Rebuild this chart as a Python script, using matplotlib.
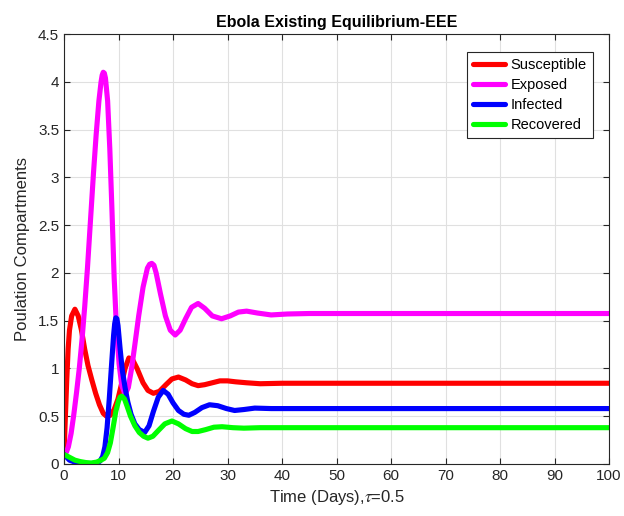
import matplotlib
matplotlib.use("Agg")
import matplotlib.pyplot as plt

plt.rcParams['font.family'] = ['Liberation Sans', 'DejaVu Sans']
plt.rcParams['mathtext.fontset'] = 'stix'

# values
t_S = [0, 0.25, 0.5, 0.75, 1.0, 1.4, 2.0, 2.6, 3.2, 3.8, 4.4, 5.1, 5.8, 6.5, 7.2, 7.8,
       8.5, 9.2, 9.9, 10.6, 11.2, 11.9, 12.6, 13.4, 14.5, 15.4, 16.4, 17.5, 18.7, 19.8,
       21.0, 22.3, 23.5, 24.6, 25.8, 27.2, 28.6, 30.0, 31.5, 33.5, 36, 40, 50, 60, 100]
S = [0.1, 0.5, 0.88, 1.2, 1.4, 1.55, 1.62, 1.55, 1.40, 1.20, 1.03, 0.88, 0.74, 0.62, 0.53, 0.50,
     0.51, 0.57, 0.68, 0.85, 1.0, 1.11, 1.09, 1.0, 0.85, 0.77, 0.74, 0.76, 0.83, 0.89,
     0.91, 0.88, 0.84, 0.82, 0.83, 0.85, 0.87, 0.87, 0.86, 0.85, 0.84, 0.845, 0.845, 0.845, 0.845]

t_E = [0, 0.4, 0.8, 1.3, 1.8, 2.3, 2.8, 3.3, 3.8, 4.3, 4.8, 5.4, 5.9, 6.4, 6.8, 7.0, 7.2, 7.4,
       7.6, 8.0, 8.4, 8.8, 9.2, 9.6, 10.1, 10.6, 11.2, 11.8, 12.4, 13.0, 13.7, 14.5, 15.3,
       15.7, 16.1, 16.5, 16.9, 17.7, 18.6, 19.5, 20.4, 21.3, 22.3, 23.4, 24.6, 25.8, 27.2,
       28.9, 30.5, 32, 33.5, 35.5, 38, 41, 45, 50, 100]
E = [0.1, 0.12, 0.18, 0.32, 0.52, 0.75, 1.0, 1.3, 1.65, 2.05, 2.5, 3.04, 3.45, 3.8, 4.0, 4.07,
     4.1, 4.09, 4.04, 3.8, 3.3, 2.65, 1.95, 1.45, 1.05, 0.82, 0.73, 0.8, 1.0, 1.25, 1.55,
     1.85, 2.05, 2.09, 2.1, 2.08, 2.0, 1.78, 1.55, 1.4, 1.35, 1.4, 1.52, 1.64, 1.68, 1.63,
     1.55, 1.52, 1.55, 1.59, 1.60, 1.58, 1.56, 1.57, 1.575, 1.575, 1.575]

t_I = [0, 0.5, 1, 2, 3, 4, 5, 6, 6.6, 7.1, 7.5, 7.9, 8.3, 8.7, 9.1, 9.3, 9.5, 9.7, 9.9,
       10.3, 10.7, 11.2, 11.7, 12.3, 13.0, 13.8, 14.8, 15.6, 16.4, 17.3, 18.2, 19.1, 20.0,
       21.0, 22.0, 22.9, 24.0, 25.3, 26.7, 28.2, 29.8, 31.3, 33, 35, 38, 42, 50, 100]
I = [0.1, 0.07, 0.04, 0.02, 0.01, 0.005, 0.005, 0.01, 0.03, 0.08, 0.18, 0.38, 0.68, 1.02, 1.35,
     1.47, 1.53, 1.52, 1.45, 1.2, 0.98, 0.8, 0.65, 0.52, 0.42, 0.36, 0.33, 0.4, 0.55, 0.7,
     0.77, 0.73, 0.64, 0.56, 0.52, 0.51, 0.54, 0.59, 0.62, 0.61, 0.58, 0.56, 0.57, 0.585,
     0.58, 0.58, 0.58, 0.58]

t_R = [0, 1, 2, 3, 4, 5, 6, 6.8, 7.4, 8.0, 8.5, 9.0, 9.5, 10.0, 10.3, 10.6, 11.1, 11.6,
       12.2, 13.0, 13.8, 14.6, 15.4, 16.3, 17.3, 18.5, 19.8, 21.0, 22.3, 23.5, 24.6, 26,
       27.5, 29, 31, 33, 36, 40, 50, 100]
R = [0.1, 0.07, 0.04, 0.025, 0.015, 0.01, 0.02, 0.04, 0.06, 0.12, 0.22, 0.38, 0.55, 0.66,
     0.70, 0.71, 0.68, 0.6, 0.5, 0.4, 0.33, 0.29, 0.27, 0.29, 0.35, 0.42, 0.45, 0.42,
     0.37, 0.34, 0.34, 0.36, 0.385, 0.39, 0.38, 0.375, 0.38, 0.38, 0.38, 0.38]

names = ['Susceptible', 'Exposed', 'Infected', 'Recovered']
x_ticks = list(range(0, 101, 10))
y_ticks = [0, 0.5, 1, 1.5, 2, 2.5, 3, 3.5, 4, 4.5]
y_tick_labels = ['0', '0.5', '1', '1.5', '2', '2.5', '3', '3.5', '4', '4.5']

fig = plt.figure(figsize=(6.24, 5.16), dpi=100)
ax = fig.add_axes([0.1026, 0.1008, 0.8734, 0.8332])

lw = 3.7
style = dict(lw=lw, solid_joinstyle='round', solid_capstyle='round')
ax.plot(t_S, S, color=(1, 0, 0), label=names[0], **style)
ax.plot(t_E, E, color=(1, 0, 1), label=names[1], **style)
ax.plot(t_I, I, color=(0, 0, 1), label=names[2], **style)
ax.plot(t_R, R, color=(0, 1, 0), label=names[3], **style)

ax.set_xlim(0, 100)
ax.set_ylim(0, 4.5)
ax.set_xticks(x_ticks)
ax.set_yticks(y_ticks)
ax.set_yticklabels(y_tick_labels)
ax.grid(True, color=(0.88, 0.88, 0.88), lw=0.8)
ax.set_axisbelow(True)
ax.tick_params(direction='in', top=True, right=True, labelsize=11,
               colors=(0.15, 0.15, 0.15), length=4, width=0.8)
for sp in ax.spines.values():
    sp.set_color((0.15, 0.15, 0.15))
    sp.set_linewidth(0.8)

ax.set_title('Ebola Existing Equilibrium-EEE', fontsize=11.5, fontweight='bold', pad=5)
ax.set_xlabel(r'Time (Days),$\tau$=0.5', fontsize=12, color=(0.15, 0.15, 0.15), labelpad=4)
ax.set_ylabel('Poulation Compartments', fontsize=12, color=(0.15, 0.15, 0.15), labelpad=6)

leg = ax.legend(loc='upper right', bbox_to_anchor=(0.970, 0.958), fontsize=10.5,
                fancybox=False, edgecolor=(0.15, 0.15, 0.15), framealpha=1,
                handlelength=2.2, handletextpad=0.4, borderpad=0.4, labelspacing=0.42,
                borderaxespad=0)
leg.get_frame().set_linewidth(0.8)
for line in leg.get_lines():
    line.set_linewidth(3.7)

fig.savefig('out.png', dpi=100)
